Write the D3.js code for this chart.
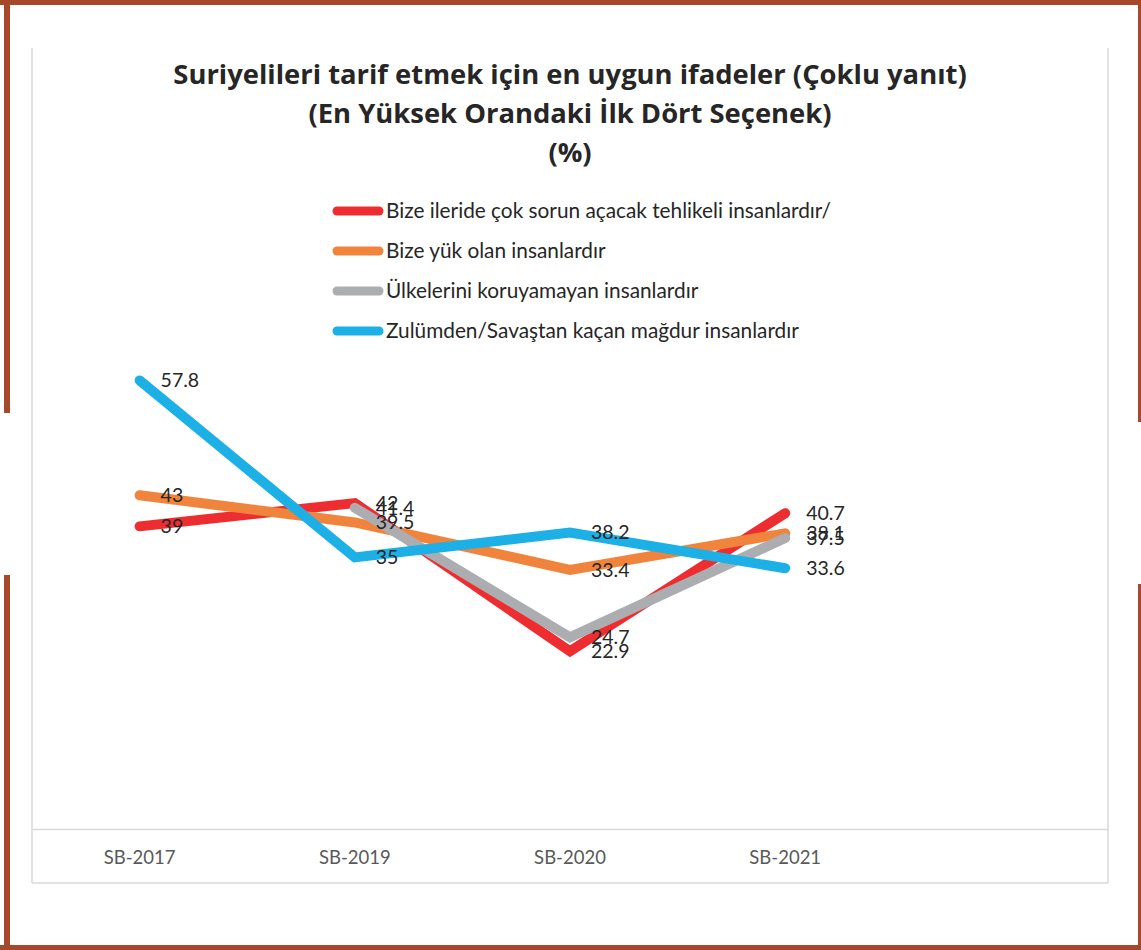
<!DOCTYPE html>
<html>
<head>
<meta charset="utf-8">
<script src="https://cdn.jsdelivr.net/npm/d3@7"></script>
<style>
  body { margin: 0; background: #fff; }
  svg { display: block; }
</style>
</head>
<body>
<script>
var width = 1141, height = 950;

// data
var categories = ["SB-2017", "SB-2019", "SB-2020", "SB-2021", ""];
var seriesNames = [
  "Bize ileride çok sorun açacak tehlikeli insanlardır/",
  "Bize yük olan insanlardır",
  "Ülkelerini koruyamayan insanlardır",
  "Zulümden/Savaştan kaçan mağdur insanlardır"
];
var tehlikeli = [39, 42, 22.9, 40.7];
var yuk = [43, 39.5, 33.4, 38.1];
var koruyamayan = [null, 41.4, 24.7, 37.5];
var magdur = [57.8, 35, 38.2, 33.6];
var colors = ["#ed2d2f", "#f0843c", "#acadb0", "#1cb0e6"];
var titleLines = [
  "Suriyelileri tarif etmek için en uygun ifadeler (Çoklu yanıt)",
  "(En Yüksek Orandaki İlk Dört Seçenek)",
  "(%)"
];

var allSeries = [tehlikeli, yuk, koruyamayan, magdur];
var font = "Lato, 'Open Sans', sans-serif";

var svg = d3.select("body")
    .append("svg")
    .attr("width", width)
    .attr("height", height);

// brown frame
var brown = "#a8482a";
svg.append("rect").attr("x", 0).attr("y", 0).attr("width", width).attr("height", 5).attr("fill", brown);
svg.append("rect").attr("x", 0).attr("y", 945).attr("width", width).attr("height", 5).attr("fill", brown);
svg.append("rect").attr("x", 4).attr("y", 0).attr("width", 6).attr("height", 413).attr("fill", brown);
svg.append("rect").attr("x", 4).attr("y", 575).attr("width", 6).attr("height", 375).attr("fill", brown);
svg.append("rect").attr("x", 1138).attr("y", 0).attr("width", 3).attr("height", 422).attr("fill", brown);
svg.append("rect").attr("x", 1138).attr("y", 584).attr("width", 3).attr("height", 366).attr("fill", brown);

// chart panel
var pLeft = 32, pRight = 1108, pTop = 48, pBottom = 883, axisY = 829;
var panel = svg.append("g").attr("stroke", "#d9d9d9").attr("stroke-width", 1.5);
panel.append("line").attr("x1", pLeft).attr("x2", pLeft).attr("y1", pTop).attr("y2", pBottom);
panel.append("line").attr("x1", pRight).attr("x2", pRight).attr("y1", pTop).attr("y2", pBottom);
panel.append("line").attr("x1", pLeft).attr("x2", pRight).attr("y1", pBottom).attr("y2", pBottom);

var x = d3.scaleBand().domain(categories).range([pLeft, pRight]);
var y = d3.scaleLinear().domain([0, 70]).range([axisY, axisY - 70 * 7.76]);

// title
svg.append("g").selectAll("text")
    .data(titleLines)
    .enter().append("text")
    .attr("x", (pLeft + pRight) / 2)
    .attr("y", function(d, i) { return 84 + i * 39; })
    .attr("text-anchor", "middle")
    .attr("font-family", "'Open Sans', sans-serif")
    .attr("font-weight", "bold")
    .attr("font-size", 27.4)
    .attr("fill", "#262626")
    .text(function(d) { return d; });

// legend
var legend = svg.append("g").selectAll("g")
    .data(seriesNames)
    .enter().append("g")
    .attr("transform", function(d, i) { return "translate(0," + (211 + i * 40) + ")"; });
legend.append("line")
    .attr("x1", 337).attr("x2", 379)
    .attr("stroke", function(d, i) { return colors[i]; })
    .attr("stroke-width", 9)
    .attr("stroke-linecap", "round");
legend.append("text")
    .attr("x", 386)
    .attr("dy", "0.35em")
    .attr("font-family", font)
    .attr("font-size", 20.8)
    .attr("fill", "#262626")
    .text(function(d) { return d; });

// x axis
var axis = svg.append("g")
    .attr("transform", "translate(0," + axisY + ")")
    .call(d3.axisBottom(x).tickSize(0).tickSizeOuter(0).tickPadding(22));
axis.select(".domain").attr("stroke", "#d9d9d9").attr("stroke-width", 1.5);
axis.selectAll("text")
    .attr("font-family", font)
    .attr("font-size", 18.5)
    .attr("fill", "#595959");

// lines
var line = d3.line()
    .defined(function(d) { return d != null; })
    .x(function(d, i) { return x(categories[i]) + x.bandwidth() / 2; })
    .y(function(d) { return y(d); });

svg.append("g").selectAll("path")
    .data(allSeries)
    .enter().append("path")
    .attr("d", line)
    .attr("fill", "none")
    .attr("stroke", function(d, i) { return colors[i]; })
    .attr("stroke-width", 10)
    .attr("stroke-linecap", "round")
    .attr("stroke-linejoin", "miter");

// data labels
var labels = [];
allSeries.forEach(function(s) {
  s.forEach(function(v, i) {
    if (v != null) labels.push({v: v, c: categories[i]});
  });
});
svg.append("g").selectAll("text")
    .data(labels)
    .enter().append("text")
    .attr("x", function(d) { return x(d.c) + x.bandwidth() / 2 + 21; })
    .attr("y", function(d) { return y(d.v); })
    .attr("dy", "0.35em")
    .attr("font-family", font)
    .attr("font-size", 19.5)
    .attr("fill", "#262626")
    .text(function(d) { return d.v; });
</script>
</body>
</html>
